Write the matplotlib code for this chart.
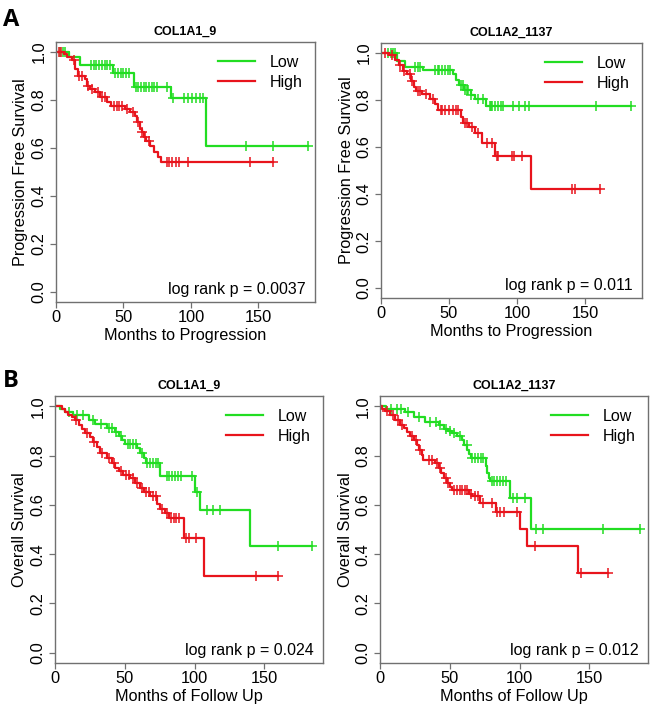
import numpy as np
import matplotlib
matplotlib.use("Agg")
import matplotlib.pyplot as plt

plt.rcParams['font.family'] = ['Liberation Sans', 'DejaVu Sans']

GREEN = '#22dd22'
RED = '#e8141c'
SPINE = '#707070'

# ---------------- data ----------------
# Panel A left: PFS, COL1A1_9
pfs1_low_t = [10, 18, 42.5, 57.5, 85, 111.5]
pfs1_low_s = [0.98, 0.946, 0.911, 0.855, 0.81, 0.607]
pfs1_low_c = [3, 5, 7, 26, 28, 30, 32, 34, 36, 38, 40, 44, 46, 48, 50, 52, 54,
              59, 61, 63, 65, 67, 69, 71, 73, 75, 82, 87, 95, 98, 101, 104, 107,
              109, 141, 161, 187]
pfs1_high_t = [6, 8, 11.5, 14, 16, 21.5, 23, 25, 29, 32.5, 37.5, 41, 51, 55,
               58.5, 60, 62, 63.5, 65, 67, 70, 73, 75.5, 77.5]
pfs1_high_s = [0.99, 0.98, 0.965, 0.93, 0.90, 0.886, 0.86, 0.847, 0.833, 0.812,
               0.79, 0.777, 0.763, 0.749, 0.735, 0.708, 0.68, 0.666, 0.645, 0.63,
               0.61, 0.582, 0.561, 0.541]
pfs1_high_c = [2, 4, 13, 17, 19, 24, 27, 31, 34, 36, 43, 45, 47, 49, 53, 57, 61,
               64, 66, 69, 82, 84, 86, 89, 91, 98, 144, 161]

# Panel A right: PFS, COL1A2_1137
pfs2_low_t = [11.5, 18, 31, 53, 55.5, 57.5, 61, 66, 69, 77]
pfs2_low_s = [0.965, 0.94, 0.927, 0.91, 0.885, 0.862, 0.843, 0.822, 0.805, 0.773]
pfs2_low_c = [5, 7, 9, 10, 25, 27, 29, 40, 42, 43, 45, 47, 49, 51, 59, 60, 62,
              63, 64, 66, 71, 75, 80, 81, 82, 84, 86, 88, 90, 97, 101.5, 106,
              109, 158.5, 184]
pfs2_high_t = [6, 10, 13, 16, 19, 22, 24, 25.5, 30, 36, 40, 42, 59, 60.5, 65,
               69, 74, 83.5, 110.5]
pfs2_high_s = [0.99, 0.97, 0.95, 0.923, 0.91, 0.88, 0.854, 0.84, 0.826, 0.805,
               0.784, 0.756, 0.728, 0.70, 0.687, 0.659, 0.617, 0.561, 0.422]
pfs2_high_c = [3, 8, 14, 17, 21, 23, 27, 29, 33, 38, 44, 45, 47, 50, 53, 55, 57,
               62, 63, 67, 71, 78, 82, 85, 86, 96, 98, 104, 140.5, 143, 161]

# Panel B left: OS, COL1A1_9
os1_low_t = [3.5, 7, 13, 24, 29, 37, 43, 45.5, 48, 50, 59, 61, 63.5, 65, 75.5,
             100, 104, 140]
os1_low_s = [0.99, 0.977, 0.964, 0.944, 0.928, 0.914, 0.897, 0.879, 0.863,
             0.847, 0.83, 0.81, 0.79, 0.769, 0.718, 0.651, 0.579, 0.434]
os1_low_c = [10, 16, 20, 27, 33, 39, 41, 44, 47, 52, 54, 56, 58, 62, 66, 68, 70,
             72, 74, 80, 82, 84, 86, 88, 90, 98, 102, 109, 113, 118, 160, 184]
os1_high_t = [5, 7, 9.5, 12, 14.5, 17, 19, 21.5, 25, 27.5, 30, 32.5, 37, 41, 43,
              45.5, 49, 54, 57.5, 61, 63.5, 68, 73, 75.5, 79, 81.5, 92.5, 107]
os1_high_s = [0.99, 0.977, 0.966, 0.957, 0.944, 0.923, 0.91, 0.89, 0.874, 0.856,
              0.836, 0.81, 0.79, 0.769, 0.749, 0.736, 0.722, 0.709, 0.689, 0.668,
              0.651, 0.635, 0.605, 0.584, 0.568, 0.548, 0.467, 0.313]
os1_high_c = [15, 23, 28, 34, 39, 42, 47, 51, 53, 56, 59, 62, 65, 67, 70, 72, 77,
              80, 83, 85, 87, 89, 94, 96, 101, 144, 160]

# Panel B right: OS, COL1A2_1137
os2_low_t = [4.5, 18, 24, 32, 42, 45.5, 49, 51.5, 55, 59, 60.5, 62.5, 63.5, 65,
             76, 77, 78, 79, 93, 108.5]
os2_low_s = [0.99, 0.977, 0.957, 0.937, 0.923, 0.91, 0.9, 0.89, 0.879, 0.863,
             0.843, 0.823, 0.807, 0.789, 0.756, 0.729, 0.709, 0.695, 0.628, 0.501]
os2_low_c = [8, 12, 15, 20, 28, 36, 40, 43, 47, 50, 53, 57, 62, 66, 68, 70, 72,
             74, 80, 82, 84, 86, 88, 90, 95, 98, 104, 112, 117, 160, 186]
os2_high_t = [1.5, 3.5, 7, 11, 14.5, 17, 19, 21.5, 24, 26.5, 28, 30, 31, 39.5,
              42, 44, 45.5, 48, 50.5, 51.5, 63.5, 66, 71.5, 83, 100.5, 105, 141.5]
os2_high_s = [0.99, 0.98, 0.964, 0.944, 0.923, 0.914, 0.897, 0.879, 0.863,
              0.843, 0.823, 0.803, 0.782, 0.769, 0.749, 0.729, 0.709, 0.689,
              0.672, 0.662, 0.646, 0.635, 0.608, 0.572, 0.501, 0.431, 0.323]
os2_high_c = [5, 9, 13, 16, 23, 26, 29, 35, 37, 41, 43, 47, 49, 53, 55, 57, 59,
              61, 62, 65, 68, 70, 74, 80, 84, 86, 89, 98, 111, 144, 163]

titles = ['COL1A1_9', 'COL1A2_1137', 'COL1A1_9', 'COL1A2_1137']
ylabels = ['Progression Free Survival', 'Progression Free Survival',
           'Overall Survival', 'Overall Survival']
xlabels = ['Months to Progression', 'Months to Progression',
           'Months of Follow Up', 'Months of Follow Up']
pvalues = ['log rank p = 0.0037', 'log rank p = 0.011',
           'log rank p = 0.024', 'log rank p = 0.012']
group_labels = ['Low', 'High']
x_ticks = [0, 50, 100, 150]
y_ticks = [0.0, 0.2, 0.4, 0.6, 0.8, 1.0]

panels = [
    ((pfs1_low_t, pfs1_low_s, pfs1_low_c), (pfs1_high_t, pfs1_high_s, pfs1_high_c)),
    ((pfs2_low_t, pfs2_low_s, pfs2_low_c), (pfs2_high_t, pfs2_high_s, pfs2_high_c)),
    ((os1_low_t, os1_low_s, os1_low_c), (os1_high_t, os1_high_s, os1_high_c)),
    ((os2_low_t, os2_low_s, os2_low_c), (os2_high_t, os2_high_s, os2_high_c)),
]

# ---------------- layout ----------------
W, H = 650, 709
boxes_px = [(56, 42, 315, 302), (381, 43, 642, 298),
            (55, 396, 323, 663), (380, 396, 648, 663)]

fig = plt.figure(figsize=(W / 100, H / 100), dpi=100)


def km_curve(times, surv, cens):
    times = np.asarray(times, float)
    surv = np.asarray(surv, float)
    cens = np.asarray(cens, float)
    end = max(cens.max(), times.max())
    x = np.concatenate([[0], times, [end]])
    y = np.concatenate([[1.0], surv, [surv[-1]]])
    levels = np.concatenate([[1.0], surv])
    cy = levels[np.searchsorted(times, cens, side='right')]
    return x, y, cens, cy


for i, (box, data) in enumerate(zip(boxes_px, panels)):
    l, t, r, b = box
    ax = fig.add_axes([l / W, 1 - b / H, (r - l) / W, (b - t) / H])
    handles = []
    for (tt, ss, cc), col, lab in zip(data, [GREEN, RED], group_labels):
        x, y, cx, cy = km_curve(tt, ss, cc)
        h, = ax.step(x, y, where='post', color=col, lw=1.6, label=lab)
        ax.plot(cx, cy, ls='none', marker='+', ms=7.5, mew=1.1, color=col)
        handles.append(h)
    ax.set_xlim(0, 192)
    ax.set_ylim(-0.042, 1.042)
    ax.set_xticks(x_ticks)
    ax.set_yticks(y_ticks)
    ax.set_yticklabels([f'{v:.1f}' for v in y_ticks], rotation=90, va='center')
    ax.tick_params(axis='both', labelsize=11.8, length=4, width=0.9,
                   color=SPINE, pad=2)
    ax.tick_params(axis='y', pad=3)
    for s in ax.spines.values():
        s.set_color(SPINE)
        s.set_linewidth(1.0)
    ax.set_title(titles[i], fontsize=9, fontweight='bold', pad=5)
    ax.set_ylabel(ylabels[i], fontsize=11.7, labelpad=2)
    ax.set_xlabel(xlabels[i], fontsize=11.7, labelpad=2)
    ax.text(0.965, 0.03, pvalues[i], transform=ax.transAxes, ha='right',
            va='baseline', fontsize=11.5)
    ax.legend(handles=handles, loc='upper right', frameon=False, fontsize=11.5,
              handlelength=2.3, handletextpad=0.9, labelspacing=0.3,
              borderaxespad=0.4)

fig.text(3 / W, 1 - 8 / H, 'A', fontsize=17, fontweight='bold', va='top',
         ha='left', family=['Open Sans', 'DejaVu Sans'])
fig.text(3 / W, 1 - 369 / H, 'B', fontsize=17, fontweight='bold', va='top',
         ha='left', family=['Open Sans', 'DejaVu Sans'])

fig.savefig('out.png', dpi=100)
